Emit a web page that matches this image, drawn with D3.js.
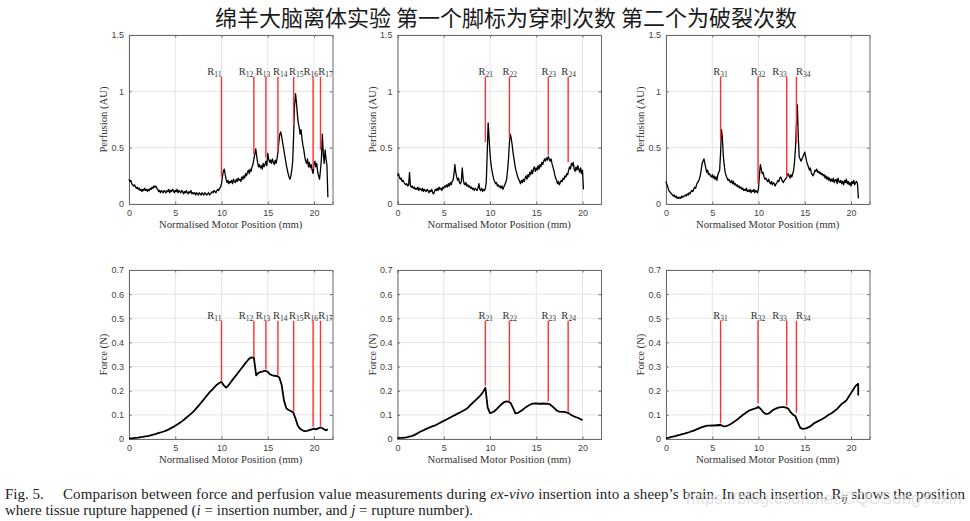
<!DOCTYPE html>
<html>
<head>
<meta charset="utf-8">
<script src="https://cdn.jsdelivr.net/npm/d3@7/dist/d3.min.js"></script>
<style>
  html, body { margin:0; padding:0; background:#fff; }
  svg { display:block; }
</style>
</head>
<body>
<svg id="chart" width="970" height="521"></svg>
<script>
// ---------------- DATA ----------------
const titleText = "绵羊大脑离体实验 第一个脚标为穿刺次数 第二个为破裂次数";
const xTicks = [0, 5, 10, 15, 20];
const perfTicks = [0, 0.5, 1, 1.5];
const forceTicks = [0, 0.1, 0.2, 0.3, 0.4, 0.5, 0.6, 0.7];
const xLabel = "Normalised Motor Position (mm)";
const perfLabel = "Perfusion (AU)";
const forceLabel = "Force (N)";

// perfusion sampled every 0.1 mm from 0
const perfStep = 0.1;
const perf1 = [
0.22,0.20,0.21,0.18,0.17,0.16,0.17,0.15,0.14,0.15,
0.13,0.14,0.12,0.13,0.11,0.13,0.12,0.14,0.12,0.13,
0.11,0.13,0.12,0.14,0.13,0.15,0.14,0.16,0.15,0.16,
0.14,0.13,0.11,0.12,0.10,0.12,0.11,0.10,0.12,0.11,
0.10,0.12,0.11,0.13,0.10,0.12,0.11,0.13,0.12,0.10,
0.12,0.11,0.13,0.10,0.12,0.11,0.10,0.12,0.11,0.09,
0.11,0.10,0.12,0.10,0.09,0.11,0.10,0.12,0.09,0.10,
0.09,0.10,0.08,0.10,0.09,0.08,0.10,0.09,0.08,0.10,
0.09,0.08,0.10,0.09,0.08,0.09,0.10,0.08,0.09,0.10,
0.11,0.10,0.12,0.11,0.10,0.12,0.13,0.12,0.14,0.15,
0.18,0.24,0.29,0.31,0.26,0.22,0.19,0.21,0.18,0.20,
0.19,0.21,0.18,0.22,0.20,0.19,0.22,0.20,0.23,0.21,
0.22,0.20,0.24,0.22,0.25,0.23,0.27,0.25,0.28,0.30,
0.27,0.31,0.29,0.33,0.35,0.40,0.44,0.49,0.43,0.37,
0.33,0.35,0.32,0.34,0.31,0.36,0.33,0.35,0.38,0.34,
0.45,0.40,0.37,0.39,0.36,0.40,0.37,0.35,0.39,0.36,
0.40,0.46,0.55,0.62,0.64,0.60,0.55,0.50,0.45,0.40,
0.35,0.31,0.27,0.24,0.22,0.25,0.30,0.38,0.62,0.88,
0.98,0.90,0.80,0.72,0.68,0.62,0.66,0.58,0.52,0.48,
0.42,0.38,0.36,0.40,0.33,0.37,0.32,0.35,0.30,0.27,
0.36,0.38,0.33,0.36,0.28,0.25,0.22,0.30,0.40,0.62,
0.45,0.36,0.48,0.40,0.34,0.06];
const perf2 = [
0.25,0.27,0.24,0.22,0.23,0.20,0.21,0.19,0.18,0.17,
0.18,0.16,0.17,0.28,0.16,0.15,0.16,0.14,0.15,0.13,
0.14,0.13,0.15,0.12,0.14,0.13,0.12,0.14,0.11,0.13,
0.12,0.11,0.13,0.12,0.10,0.12,0.11,0.13,0.10,0.09,
0.11,0.13,0.12,0.14,0.12,0.15,0.13,0.14,0.12,0.15,
0.14,0.16,0.15,0.17,0.15,0.18,0.16,0.19,0.17,0.20,
0.21,0.26,0.35,0.28,0.24,0.21,0.23,0.19,0.18,0.20,
0.32,0.22,0.18,0.17,0.19,0.16,0.17,0.15,0.16,0.14,
0.15,0.13,0.14,0.12,0.14,0.13,0.12,0.14,0.18,0.13,
0.12,0.14,0.11,0.13,0.12,0.14,0.20,0.45,0.72,0.58,
0.45,0.36,0.30,0.26,0.22,0.20,0.18,0.19,0.16,0.17,
0.15,0.16,0.14,0.16,0.13,0.15,0.17,0.19,0.22,0.30,
0.40,0.55,0.62,0.58,0.52,0.45,0.40,0.34,0.30,0.27,
0.24,0.22,0.20,0.18,0.21,0.19,0.22,0.20,0.23,0.25,
0.22,0.26,0.24,0.28,0.26,0.30,0.27,0.31,0.33,0.29,
0.32,0.30,0.34,0.31,0.35,0.33,0.37,0.35,0.38,0.40,
0.38,0.41,0.39,0.42,0.40,0.38,0.40,0.36,0.33,0.30,
0.26,0.23,0.21,0.18,0.20,0.17,0.19,0.21,0.20,0.23,
0.22,0.25,0.24,0.27,0.26,0.30,0.33,0.31,0.36,0.34,
0.37,0.31,0.29,0.33,0.30,0.34,0.31,0.28,0.32,0.27,
0.30,0.13];
const perf3 = [
0.20,0.17,0.15,0.12,0.11,0.10,0.09,0.08,0.07,0.08,
0.06,0.07,0.05,0.06,0.05,0.06,0.05,0.07,0.06,0.07,
0.07,0.08,0.07,0.09,0.08,0.10,0.09,0.11,0.12,0.11,
0.13,0.15,0.14,0.17,0.19,0.20,0.22,0.25,0.30,0.36,
0.38,0.40,0.36,0.32,0.28,0.30,0.26,0.27,0.25,0.24,
0.26,0.23,0.25,0.22,0.24,0.21,0.26,0.28,0.30,0.45,
0.66,0.58,0.42,0.34,0.28,0.25,0.23,0.21,0.22,0.20,
0.19,0.21,0.18,0.20,0.17,0.18,0.16,0.17,0.15,0.16,
0.14,0.15,0.13,0.14,0.12,0.13,0.12,0.14,0.11,0.12,
0.11,0.13,0.10,0.12,0.11,0.13,0.10,0.12,0.11,0.10,
0.14,0.25,0.35,0.31,0.27,0.28,0.24,0.22,0.23,0.21,
0.20,0.22,0.19,0.18,0.20,0.17,0.19,0.18,0.16,0.18,
0.19,0.21,0.20,0.23,0.24,0.22,0.20,0.19,0.21,0.22,
0.23,0.25,0.27,0.25,0.23,0.26,0.24,0.27,0.30,0.38,
0.50,0.70,0.88,0.60,0.42,0.40,0.38,0.40,0.42,0.44,
0.46,0.42,0.38,0.35,0.33,0.30,0.32,0.28,0.26,0.25,
0.27,0.30,0.29,0.31,0.28,0.29,0.27,0.28,0.26,0.27,
0.25,0.26,0.23,0.25,0.22,0.24,0.21,0.23,0.20,0.22,
0.20,0.23,0.19,0.21,0.22,0.18,0.23,0.20,0.19,0.21,
0.18,0.20,0.17,0.21,0.19,0.22,0.18,0.20,0.17,0.19,
0.16,0.20,0.18,0.21,0.17,0.19,0.20,0.18,0.05];

// force sampled every 0.25 mm from 0
const forceStep = 0.25;
const force1 = [
0.003,0.003,0.004,0.005,0.006,0.008,0.009,0.011,
0.012,0.014,0.017,0.019,0.022,0.025,0.028,0.031,
0.035,0.039,0.044,0.049,0.055,0.061,0.067,0.074,
0.082,0.090,0.098,0.106,0.115,0.126,0.137,0.148,
0.160,0.172,0.184,0.195,0.205,0.215,0.225,0.232,
0.237,0.222,0.213,0.222,0.235,0.248,0.260,0.272,
0.285,0.297,0.310,0.322,0.333,0.338,0.336,0.264,
0.274,0.278,0.280,0.283,0.278,0.268,0.264,0.262,
0.261,0.255,0.225,0.160,0.128,0.120,0.116,0.110,
0.085,0.055,0.042,0.036,0.033,0.034,0.037,0.040,
0.043,0.040,0.045,0.048,0.042,0.036,0.040];
const force2 = [
0.004,0.005,0.005,0.006,0.007,0.010,0.012,0.015,
0.020,0.026,0.031,0.035,0.040,0.044,0.048,0.052,
0.055,0.060,0.065,0.070,0.075,0.080,0.085,0.090,
0.095,0.100,0.105,0.110,0.115,0.120,0.126,0.135,
0.145,0.154,0.163,0.172,0.182,0.195,0.212,0.130,
0.107,0.110,0.116,0.125,0.135,0.144,0.152,0.156,
0.155,0.148,0.128,0.106,0.108,0.114,0.120,0.128,
0.135,0.141,0.145,0.147,0.147,0.146,0.146,0.147,
0.146,0.146,0.143,0.135,0.126,0.117,0.113,0.112,
0.112,0.110,0.107,0.100,0.095,0.091,0.088,0.083,
0.078];
const force3 = [
0.003,0.005,0.008,0.010,0.012,0.015,0.017,0.020,
0.022,0.025,0.028,0.032,0.035,0.039,0.043,0.047,
0.050,0.053,0.055,0.055,0.056,0.056,0.057,0.058,
0.057,0.052,0.053,0.057,0.062,0.068,0.075,0.082,
0.090,0.098,0.105,0.112,0.118,0.122,0.125,0.128,
0.133,0.124,0.112,0.104,0.104,0.110,0.118,0.124,
0.128,0.131,0.132,0.132,0.130,0.124,0.110,0.100,
0.094,0.070,0.047,0.042,0.043,0.046,0.050,0.057,
0.065,0.070,0.075,0.080,0.085,0.091,0.098,0.104,
0.110,0.117,0.125,0.135,0.145,0.152,0.160,0.175,
0.190,0.205,0.220,0.228];
const force3Tail = [[20.78, 0.228], [20.78, 0.18]];

// rupture positions (mm), label centres (mm) and labels
const rupture1X = [10.0, 13.5, 14.8, 16.1, 17.8, 19.9, 20.7];
const rupture2X = [9.5, 12.1, 16.3, 18.45];
const rupture3X = [5.9, 9.95, 13.05, 14.1];
const label1X = [9.22, 12.66, 14.48, 16.34, 18.07, 19.64, 21.24];
const label2X = [9.55, 12.13, 16.35, 18.5];
const label3X = [5.89, 9.95, 12.28, 14.85];
const rupture1Sub = ["11","12","13","14","15","16","17"];
const rupture2Sub = ["21","22","23","24"];
const rupture3Sub = ["31","32","33","34"];
// where the red markers end (data value at the rupture)
const rupture1PerfEnd = [0.24, 0.44, 0.41, 0.46, 0.70, 0.31, 0.48];
const rupture2PerfEnd = [0.55, 0.58, 0.43, 0.37];
const rupture3PerfEnd = [0.56, 0.18, 0.24, 0.54];
const rupture1ForceEnd = [0.237, 0.34, 0.289, 0.265, 0.113, 0.051, 0.054];
const rupture2ForceEnd = [0.221, 0.155, 0.155, 0.113];
const rupture3ForceEnd = [0.065, 0.148, 0.138, 0.109];
const perfMarkTop = 1.13;
const forceMarkTop = 0.49;

// ---------------- LAYOUT ----------------
const svg = d3.select("#chart");
const colLeft = [129, 397.5, 666];
const rowTop = [35, 270];
const pw = 203.5, ph = 169;
const xDomain = [0, 22];

svg.append("text")
  .attr("x", 506).attr("y", 26)
  .attr("text-anchor", "middle")
  .attr("font-family", "'Noto Sans CJK SC', sans-serif")
  .attr("font-size", 22)
  .attr("fill", "#1a1a1a")
  .text(titleText);

const toPts = (arr, step) => arr.map((v, i) => [i * step, v]);

const panels = [
  {c:0, r:0, pts: toPts(perf1, perfStep), yd:[0,1.5], yt:perfTicks, yl:perfLabel, rx:rupture1X, lx:label1X, rs:rupture1Sub, re:rupture1PerfEnd, top:perfMarkTop},
  {c:1, r:0, pts: toPts(perf2, perfStep), yd:[0,1.5], yt:perfTicks, yl:perfLabel, rx:rupture2X, lx:label2X, rs:rupture2Sub, re:rupture2PerfEnd, top:perfMarkTop},
  {c:2, r:0, pts: toPts(perf3, perfStep), yd:[0,1.5], yt:perfTicks, yl:perfLabel, rx:rupture3X, lx:label3X, rs:rupture3Sub, re:rupture3PerfEnd, top:perfMarkTop},
  {c:0, r:1, pts: toPts(force1, forceStep), yd:[0,0.7], yt:forceTicks, yl:forceLabel, rx:rupture1X, lx:label1X, rs:rupture1Sub, re:rupture1ForceEnd, top:forceMarkTop},
  {c:1, r:1, pts: toPts(force2, forceStep), yd:[0,0.7], yt:forceTicks, yl:forceLabel, rx:rupture2X, lx:label2X, rs:rupture2Sub, re:rupture2ForceEnd, top:forceMarkTop},
  {c:2, r:1, pts: toPts(force3, forceStep).concat(force3Tail), yd:[0,0.7], yt:forceTicks, yl:forceLabel, rx:rupture3X, lx:label3X, rs:rupture3Sub, re:rupture3ForceEnd, top:forceMarkTop}
];

const axisColor = "#6a6a6a";
const gridColor = "#e4e4e4";
const tickFont = "'Liberation Sans', Arial, sans-serif";
const serif = "'Liberation Serif', 'Times New Roman', serif";

panels.forEach(p => {
  const g = svg.append("g").attr("transform", `translate(${colLeft[p.c]},${rowTop[p.r]})`);
  const x = d3.scaleLinear().domain(xDomain).range([0, pw]);
  const y = d3.scaleLinear().domain(p.yd).range([ph, 0]);

  // grid
  g.append("g").selectAll("line").data(xTicks).join("line")
    .attr("x1", d => x(d)).attr("x2", d => x(d)).attr("y1", 0).attr("y2", ph)
    .attr("stroke", gridColor).attr("stroke-width", 1);
  g.append("g").selectAll("line").data(p.yt).join("line")
    .attr("x1", 0).attr("x2", pw).attr("y1", d => y(d)).attr("y2", d => y(d))
    .attr("stroke", gridColor).attr("stroke-width", 1);

  // axes (inward ticks, MATLAB style)
  const ax = d3.axisBottom(x).tickValues(xTicks).tickSize(-2.5).tickPadding(6).tickFormat(d3.format("d"));
  const ay = d3.axisLeft(y).tickValues(p.yt).tickSize(-2.5).tickPadding(5).tickFormat(d => d === 0 ? "0" : String(d));
  const ax2 = d3.axisTop(x).tickValues(xTicks).tickSize(-2.5).tickFormat("");
  const ay2 = d3.axisRight(y).tickValues(p.yt).tickSize(-2.5).tickFormat("");
  const gx = g.append("g").attr("transform", `translate(0,${ph})`).call(ax);
  const gy = g.append("g").call(ay);
  const gx2 = g.append("g").call(ax2);
  const gy2 = g.append("g").attr("transform", `translate(${pw},0)`).call(ay2);
  [gx, gy, gx2, gy2].forEach(a => {
    a.select(".domain").attr("stroke", axisColor).attr("stroke-width", 1);
    a.selectAll(".tick line").attr("stroke", axisColor);
    a.selectAll(".tick text").attr("font-family", tickFont).attr("font-size", 9).attr("fill", "#444");
  });

  // data line
  const line = d3.line().x(d => x(d[0])).y(d => y(d[1]));
  g.append("path").datum(p.pts)
    .attr("d", line).attr("fill", "none")
    .attr("stroke", "#000").attr("stroke-width", p.r === 0 ? 1.3 : 1.8)
    .attr("stroke-linejoin", "round");

  // rupture markers
  p.rx.forEach((rx, i) => {
    g.append("line")
      .attr("x1", x(rx)).attr("x2", x(rx))
      .attr("y1", y(p.top)).attr("y2", y(p.re[i]))
      .attr("stroke", "#ff3030").attr("stroke-width", 1.4);
    const t = g.append("text")
      .attr("x", x(p.lx[i])).attr("y", y(p.top) - 1.5)
      .attr("text-anchor", "middle")
      .attr("font-family", serif).attr("font-size", 10.5).attr("fill", "#333");
    t.append("tspan").text("R");
    t.append("tspan").attr("dy", 2.2).attr("font-size", 7.5).text(p.rs[i]);
  });

  // axis labels
  g.append("text")
    .attr("x", pw / 2).attr("y", ph + 24)
    .attr("text-anchor", "middle")
    .attr("font-family", serif).attr("font-size", 10.7).attr("fill", "#333")
    .text(xLabel);
  g.append("text")
    .attr("transform", `translate(${-22},${ph / 2}) rotate(-90)`)
    .attr("text-anchor", "middle")
    .attr("font-family", serif).attr("font-size", 10.7).attr("fill", "#333")
    .text(p.yl);
});

// ---------------- CAPTION ----------------
const cap = svg.append("g").attr("font-family", serif).attr("font-size", 15).attr("fill", "#222");
cap.append("text").attr("x", 5).attr("y", 499).text("Fig. 5.");
const l1 = cap.append("text").attr("x", 63).attr("y", 499)
  .attr("textLength", 902).attr("lengthAdjust", "spacing");
l1.append("tspan").text("Comparison between force and perfusion value measurements during ");
l1.append("tspan").attr("font-style", "italic").text("ex-vivo");
l1.append("tspan").text(" insertion into a sheep\u2019s brain. In each insertion, R");
l1.append("tspan").attr("font-style", "italic").attr("font-size", 10.5).attr("dy", 2.5).text("ij");
l1.append("tspan").attr("dy", -2.5).text(" shows the position");
const l2 = cap.append("text").attr("x", 5).attr("y", 514.5);
l2.append("tspan").text("where tissue rupture happened (");
l2.append("tspan").attr("font-style", "italic").text("i");
l2.append("tspan").text(" = insertion number, and ");
l2.append("tspan").attr("font-style", "italic").text("j");
l2.append("tspan").text(" = rupture number).");

// watermark
svg.append("text").attr("x", 962).attr("y", 504)
  .attr("text-anchor", "end")
  .attr("font-family", "'Liberation Sans', Arial, sans-serif")
  .attr("font-size", 17).attr("fill", "#dcdcdc").attr("fill-opacity", 0.8)
  .text("https://blog.csdn.net/CQUSongYuxin");
</script>
</body>
</html>
